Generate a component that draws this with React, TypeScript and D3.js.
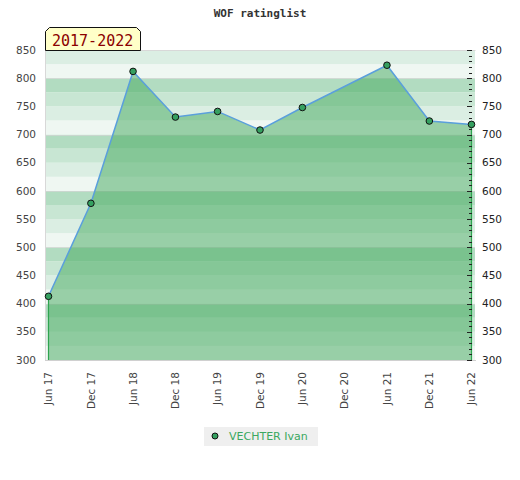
import { useEffect, useRef } from "react";
import * as d3 from "d3";

const pointDates = ["2017-06-01", "2017-12-01", "2018-06-01", "2018-12-01", "2019-06-01", "2019-12-01", "2020-06-01", "2021-06-01", "2021-12-01", "2022-06-01"];
const ratings = [413, 578, 812, 731, 741, 708, 748, 823, 724, 718];
const tickDates = ["2017-06-01", "2017-12-01", "2018-06-01", "2018-12-01", "2019-06-01", "2019-12-01", "2020-06-01", "2020-12-01", "2021-06-01", "2021-12-01", "2022-06-01"];
const tickLabels = ["Jun 17", "Dec 17", "Jun 18", "Dec 18", "Jun 19", "Dec 19", "Jun 20", "Dec 20", "Jun 21", "Dec 21", "Jun 22"];
const yTicks = [300, 350, 400, 450, 500, 550, 600, 650, 700, 750, 800, 850];
const playerName = "VECHTER Ivan";
const periodLabel = "2017-2022";
const title = "WOF ratinglist";

export default function App() {
  const ref = useRef<SVGSVGElement>(null);

  useEffect(() => {
    document.body.style.margin = "0";
    const width = 520;
    const height = 480;
    const svg = d3.select(ref.current);
    svg.selectAll("*").remove();
    svg.attr("width", width).attr("height", height);

    const parse = d3.utcParse("%Y-%m-%d");
    const x = d3
      .scaleUtc()
      .domain([parse(tickDates[0])!, parse(tickDates[tickDates.length - 1])!])
      .range([48.5, 471.5]);
    const y = d3.scaleLinear().domain([300, 850]).range([360, 50]);

    const bandColors = ["#eff7f2", "#dbeee3", "#c8e6d3", "#b2dcc1"];
    // background bands, 25 units each
    svg
      .append("g")
      .selectAll("rect")
      .data(d3.range(300, 850, 25))
      .enter()
      .append("rect")
      .attr("x", 45)
      .attr("width", 430)
      .attr("y", (d) => y(d + 25))
      .attr("height", (d) => y(d) - y(d + 25))
      .attr("fill", (d) => bandColors[(d % 100) / 25]);

    // faint lines every 100
    svg
      .append("g")
      .selectAll("line")
      .data([400, 500, 600, 700, 800])
      .enter()
      .append("line")
      .attr("x1", 45)
      .attr("x2", 475)
      .attr("y1", (d) => Math.round(y(d)) + 0.5)
      .attr("y2", (d) => Math.round(y(d)) + 0.5)
      .attr("stroke", "#d4d4d4")
      .attr("stroke-opacity", 0.7);

    const pts = pointDates.map((d, i) => ({ date: parse(d)!, value: ratings[i] }));

    const area = d3
      .area<{ date: Date; value: number }>()
      .x((d) => x(d.date))
      .y0(y(300))
      .y1((d) => y(d.value));
    svg
      .append("path")
      .datum(pts)
      .attr("d", area)
      .attr("fill", "rgb(66,168,92)")
      .attr("fill-opacity", 0.5);

    // vertical edges of area
    [pts[0], pts[pts.length - 1]].forEach((p) => {
      svg
        .append("line")
        .attr("x1", x(p.date))
        .attr("x2", x(p.date))
        .attr("y1", y(p.value))
        .attr("y2", y(300))
        .attr("stroke", "#2ea44f")
        .attr("stroke-width", 1.2);
    });

    // border
    svg
      .append("path")
      .attr("d", "M45.5,360.5V50.5H475.5")
      .attr("fill", "none")
      .attr("stroke", "#d8d8d8");
    svg
      .append("line")
      .attr("x1", 45)
      .attr("x2", 476)
      .attr("y1", 360.5)
      .attr("y2", 360.5)
      .attr("stroke", "#d0d0d0");

    // right minor ticks
    svg
      .append("g")
      .selectAll("line")
      .data(d3.range(300, 851, 10))
      .enter()
      .append("line")
      .attr("x1", (d) => (d % 50 === 0 ? 467 : 469))
      .attr("x2", 472)
      .attr("y1", (d) => Math.round(y(d)) + 0.5)
      .attr("y2", (d) => Math.round(y(d)) + 0.5)
      .attr("stroke", "#222");

    const line = d3
      .line<{ date: Date; value: number }>()
      .x((d) => x(d.date))
      .y((d) => y(d.value));
    svg
      .append("path")
      .datum(pts)
      .attr("d", line)
      .attr("fill", "none")
      .attr("stroke", "#5a9fdc")
      .attr("stroke-width", 1.5);

    svg
      .append("g")
      .selectAll("circle")
      .data(pts)
      .enter()
      .append("circle")
      .attr("cx", (d) => x(d.date))
      .attr("cy", (d) => y(d.value))
      .attr("r", 3.3)
      .attr("fill", "#35a060")
      .attr("stroke", "#111")
      .attr("stroke-width", 1);

    // y labels
    const font = "DejaVu Sans, sans-serif";
    svg
      .append("g")
      .selectAll("text")
      .data(yTicks)
      .enter()
      .append("text")
      .attr("x", 36)
      .attr("y", (d) => y(d))
      .attr("dy", "0.35em")
      .attr("text-anchor", "end")
      .attr("font-family", font)
      .attr("font-size", 10.5)
      .attr("fill", "#444")
      .text((d) => d);
    svg
      .append("g")
      .selectAll("text")
      .data(yTicks)
      .enter()
      .append("text")
      .attr("x", 482)
      .attr("y", (d) => y(d))
      .attr("dy", "0.35em")
      .attr("text-anchor", "start")
      .attr("font-family", font)
      .attr("font-size", 10.5)
      .attr("fill", "#222")
      .text((d) => d);

    // x labels
    svg
      .append("g")
      .selectAll("text")
      .data(tickDates)
      .enter()
      .append("text")
      .attr("transform", (d) => `translate(${x(parse(d)!)},372) rotate(-90)`)
      .attr("dy", "0.35em")
      .attr("text-anchor", "end")
      .attr("font-family", font)
      .attr("font-size", 10.5)
      .attr("fill", "#444")
      .text((d, i) => tickLabels[i]);

    // title
    svg
      .append("text")
      .attr("x", 260)
      .attr("y", 17)
      .attr("text-anchor", "middle")
      .attr("font-family", "DejaVu Sans Mono, monospace")
      .attr("font-weight", "bold")
      .attr("font-size", 11)
      .attr("fill", "#333")
      .text(title);

    // period box
    svg
      .append("path")
      .attr("d", "M45.5,50.5V31.5L49.5,27.5H136.5L140.5,31.5V50.5Z")
      .attr("fill", "#ffffc8")
      .attr("stroke", "#111");
    svg
      .append("text")
      .attr("x", 52)
      .attr("y", 46)
      .attr("font-family", "DejaVu Sans Mono, monospace")
      .attr("font-size", 15)
      .attr("fill", "#8b0000")
      .text(periodLabel);

    // legend
    svg
      .append("rect")
      .attr("x", 204)
      .attr("y", 427)
      .attr("width", 114)
      .attr("height", 19)
      .attr("fill", "#efefef");
    svg
      .append("circle")
      .attr("cx", 215)
      .attr("cy", 436)
      .attr("r", 3)
      .attr("fill", "#35a060")
      .attr("stroke", "#111");
    svg
      .append("text")
      .attr("x", 229)
      .attr("y", 436)
      .attr("dy", "0.35em")
      .attr("font-family", font)
      .attr("font-size", 11)
      .attr("fill", "#3aa860")
      .text(playerName);
  }, []);

  return <svg ref={ref}></svg>;
}
